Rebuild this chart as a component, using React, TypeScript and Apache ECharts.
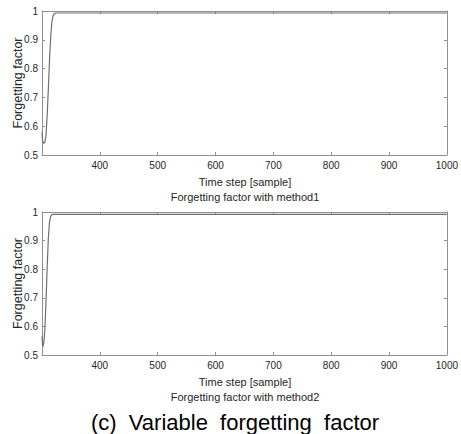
import React, { useEffect, useRef } from "react";
import * as echarts from "echarts";

const xTicks = [400, 500, 600, 700, 800, 900, 1000];
const yTicks = [0.5, 0.6, 0.7, 0.8, 0.9, 1];

const method1X = [300, 301, 303, 305, 307, 309, 311, 313, 315, 317, 319, 321, 324, 1000];
const method1Y = [0.58, 0.55, 0.54, 0.545, 0.57, 0.64, 0.73, 0.83, 0.91, 0.96, 0.983, 0.99, 0.993, 0.993];

const method2X = [300, 301, 302, 303.5, 305, 307, 309, 311, 313, 315, 317, 320, 1000];
const method2Y = [0.565, 0.535, 0.53, 0.55, 0.59, 0.69, 0.81, 0.91, 0.965, 0.985, 0.991, 0.992, 0.992];

const xLabel = "Time step [sample]";
const yLabel = "Forgetting factor";
const subTitles = ["Forgetting factor with method1", "Forgetting factor with method2"];
const caption = "(c)  Variable  forgetting  factor";

const FONT = "'Liberation Sans', Arial, sans-serif";
const AXIS_COLOR = "#8f8f8f";
const TEXT_COLOR = "#262626";
const LINE_COLOR = "#707070";

export default function App() {
  const ref = useRef<HTMLDivElement>(null);
  useEffect(() => {
    if (!ref.current) return;
    const chart = echarts.init(ref.current, undefined, { renderer: "svg" });
    const grids = [
      { left: 42, right: 13, top: 11, height: 144 },
      { left: 42, right: 13, top: 212, height: 143 },
    ];
    const xMin = 300;
    const xMax = xTicks[xTicks.length - 1];
    const yMin = yTicks[0];
    const yMax = yTicks[yTicks.length - 1];
    const xAxes: any[] = [];
    const yAxes: any[] = [];
    grids.forEach((_, gi) => {
      [false, true].forEach((isTop) => {
        xAxes.push({
          type: "value",
          gridIndex: gi,
          position: isTop ? "top" : "bottom",
          min: xMin,
          max: xMax,
          interval: 100,
          axisLine: { show: true, onZero: false, lineStyle: { color: AXIS_COLOR, width: 1 } },
          axisTick: { show: true, inside: true, length: 3, lineStyle: { color: AXIS_COLOR } },
          axisLabel: {
            show: !isTop,
            showMinLabel: false,
            margin: 5,
            fontSize: 10,
            fontFamily: FONT,
            color: TEXT_COLOR,
            formatter: (v: number) => String(Math.round(v)),
          },
          splitLine: { show: false },
        });
        yAxes.push({
          type: "value",
          gridIndex: gi,
          position: isTop ? "right" : "left",
          min: yMin,
          max: yMax,
          interval: 0.1,
          axisLine: { show: true, onZero: false, lineStyle: { color: AXIS_COLOR, width: 1 } },
          axisTick: { show: true, inside: true, length: 3, lineStyle: { color: AXIS_COLOR } },
          axisLabel: {
            show: !isTop,
            margin: 4,
            fontSize: 10,
            fontFamily: FONT,
            color: TEXT_COLOR,
            formatter: (v: number) => (Math.abs(v - 1) < 1e-9 ? "1" : v.toFixed(1)),
          },
          splitLine: { show: false },
        });
      });
    });
    const mk = (xs: number[], ys: number[]) => xs.map((x, i) => [x, ys[i]]);
    const texts: any[] = [];
    grids.forEach((g, gi) => {
      const cx = 245;
      const axisBottom = g.top + g.height;
      texts.push({
        type: "text",
        x: 18,
        y: g.top + g.height / 2,
        rotation: Math.PI / 2,
        style: {
          text: yLabel,
          fontSize: 12.5,
          fontFamily: FONT,
          fill: TEXT_COLOR,
          align: "center",
          verticalAlign: "middle",
        },
      });
      texts.push({
        type: "text",
        x: cx,
        y: axisBottom + 27,
        style: {
          text: xLabel,
          fontSize: 11,
          fontFamily: FONT,
          fill: TEXT_COLOR,
          align: "center",
          verticalAlign: "middle",
        },
      });
      texts.push({
        type: "text",
        x: cx,
        y: axisBottom + 42,
        style: {
          text: subTitles[gi],
          fontSize: 11,
          fontFamily: FONT,
          fill: TEXT_COLOR,
          align: "center",
          verticalAlign: "middle",
        },
      });
    });
    texts.push({
      type: "text",
      x: 235,
      y: 422,
      style: {
        text: caption,
        fontSize: 22,
        fontFamily: FONT,
        fill: "#000",
        align: "center",
        verticalAlign: "middle",
      },
    });
    chart.setOption({
      animation: false,
      backgroundColor: "#fff",
      grid: grids,
      xAxis: xAxes,
      yAxis: yAxes,
      series: [
        {
          type: "line",
          xAxisIndex: 0,
          yAxisIndex: 0,
          data: mk(method1X, method1Y),
          showSymbol: false,
          lineStyle: { color: LINE_COLOR, width: 1.2 },
        },
        {
          type: "line",
          xAxisIndex: 2,
          yAxisIndex: 2,
          data: mk(method2X, method2Y),
          showSymbol: false,
          lineStyle: { color: LINE_COLOR, width: 1.2 },
        },
      ],
      graphic: texts,
    });
    return () => chart.dispose();
  }, []);
  return (
    <div
      ref={ref}
      style={{ position: "absolute", left: 0, top: 0, width: 461, height: 434 }}
    />
  );
}
